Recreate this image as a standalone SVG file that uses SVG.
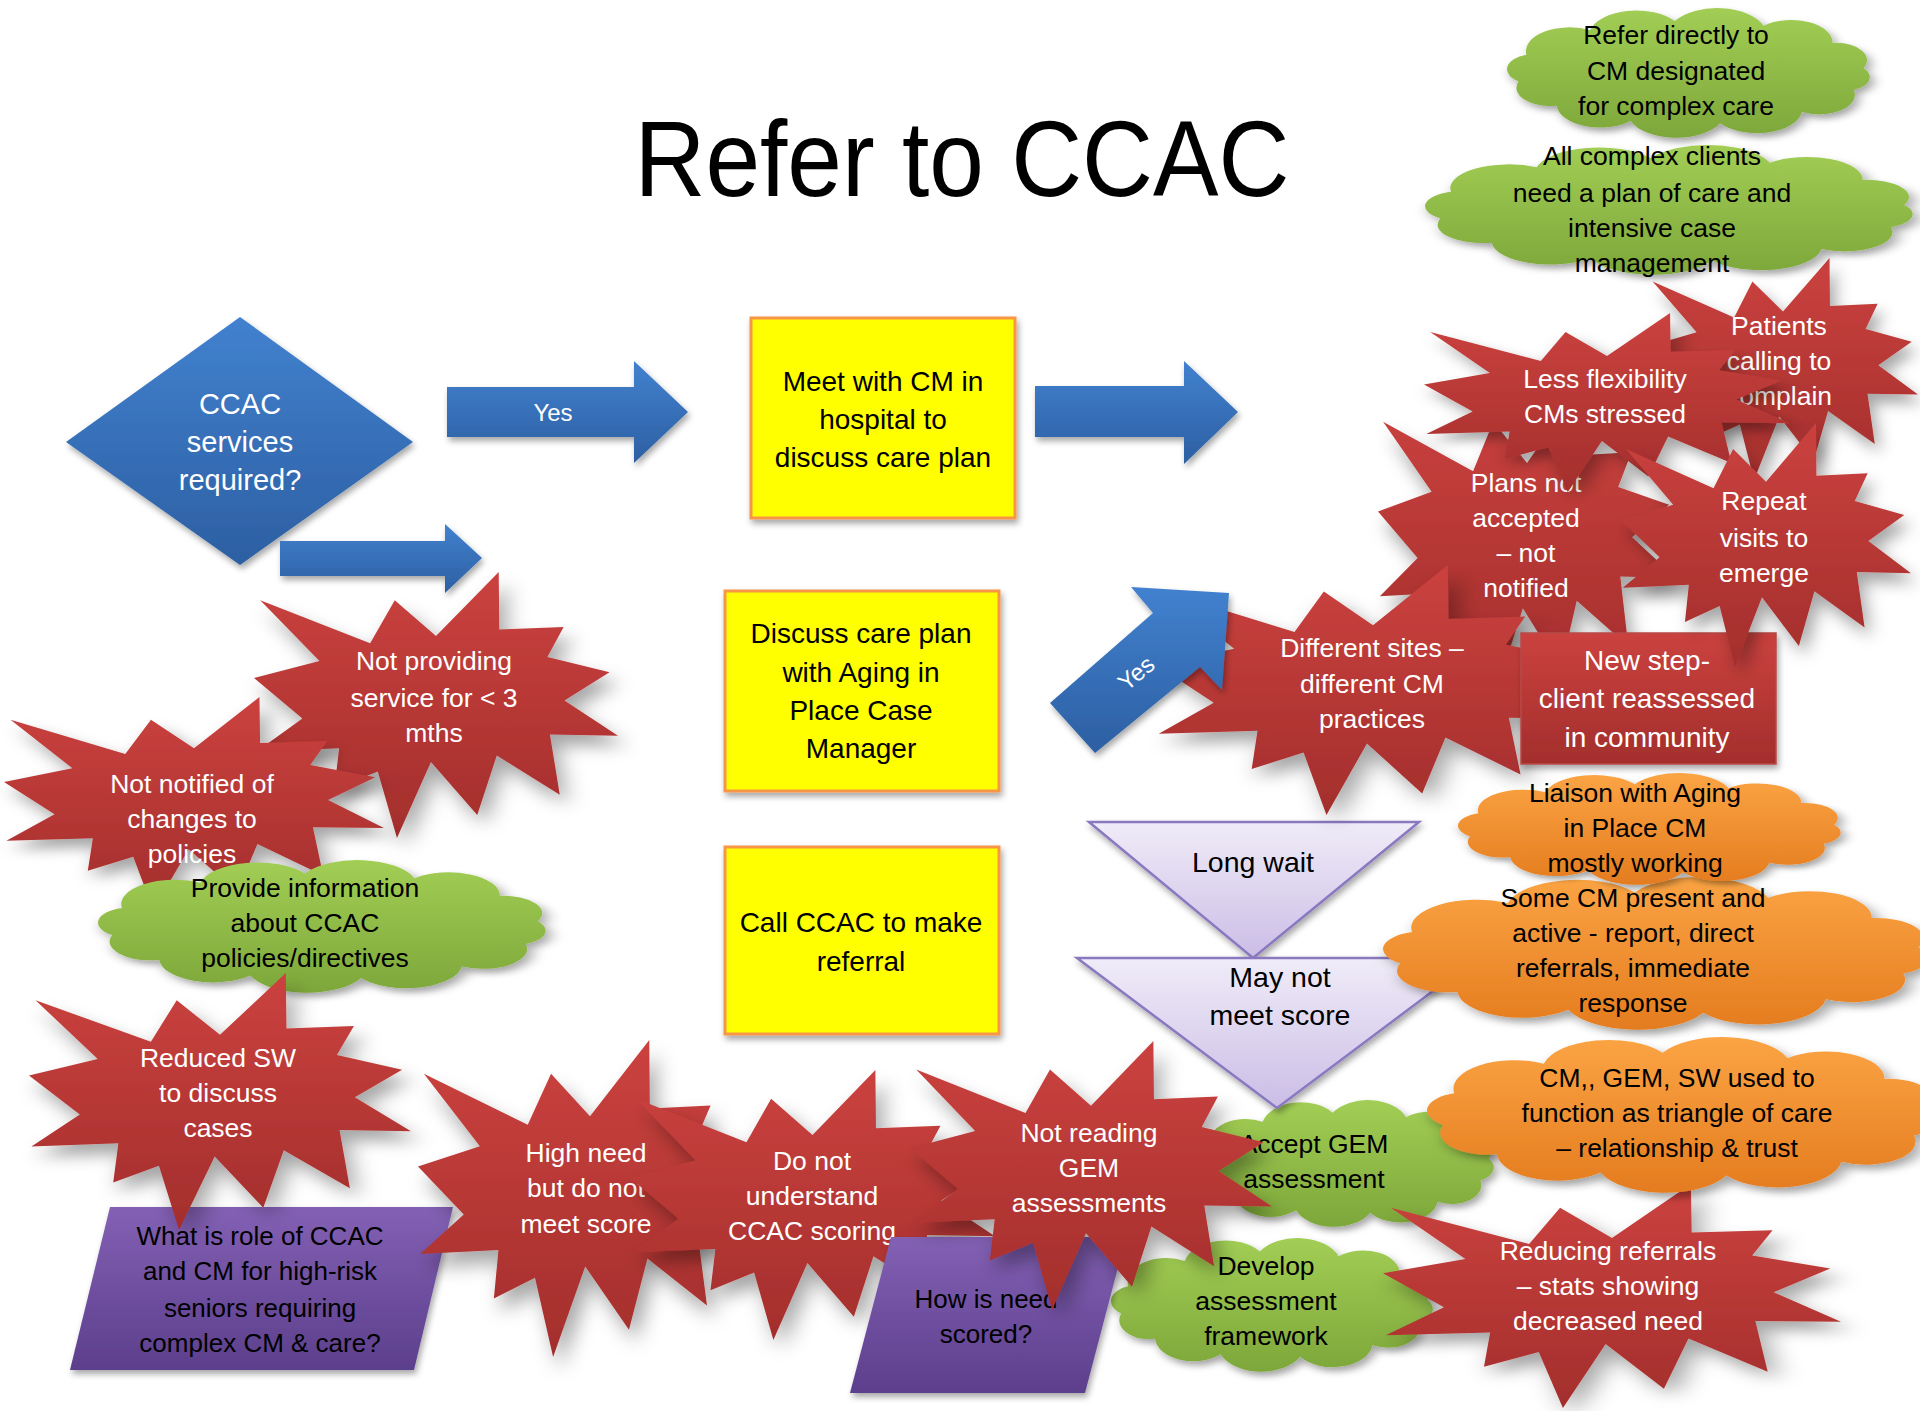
<svg xmlns="http://www.w3.org/2000/svg" xmlns:xlink="http://www.w3.org/1999/xlink" width="1920" height="1411" viewBox="0 0 1920 1411">
<defs>
<linearGradient id="gRed" x1="0" y1="0" x2="0" y2="1"><stop offset="0" stop-color="#CB423F"/><stop offset="1" stop-color="#A32E2C"/></linearGradient>
<linearGradient id="gBlue" x1="0" y1="0" x2="0" y2="1"><stop offset="0" stop-color="#4281CF"/><stop offset="1" stop-color="#2C5FA2"/></linearGradient>
<linearGradient id="gGreen" x1="0" y1="0" x2="0" y2="1"><stop offset="0" stop-color="#A2CE55"/><stop offset="1" stop-color="#7DA73A"/></linearGradient>
<linearGradient id="gOrange" x1="0" y1="0" x2="0" y2="1"><stop offset="0" stop-color="#FBA444"/><stop offset="1" stop-color="#E47C1F"/></linearGradient>
<linearGradient id="gPurple" x1="0" y1="0" x2="0" y2="1"><stop offset="0" stop-color="#8360B4"/><stop offset="1" stop-color="#5C3F8C"/></linearGradient>
<linearGradient id="gLav" x1="0" y1="0" x2="0" y2="1"><stop offset="0" stop-color="#F0ECF8"/><stop offset="1" stop-color="#CBBDE6"/></linearGradient>
<filter id="sh" x="-10%" y="-10%" width="125%" height="130%"><feDropShadow dx="2" dy="4" stdDeviation="3" flood-color="#000" flood-opacity="0.35"/></filter>
<path id="boom" d="M50,24.07 L67.23,0 L67.39,21.61 L85.06,20.64 L80.6,31.93 L97.67,37.67 L85.29,48.32 L100,61.53 L81.3,61.11 L84,83.77 L66.7,68.96 L61.33,91.38 L48.61,71.44 L39.28,100 L34.01,75.03 L22.05,81.56 L23.39,66.26 L0.63,67.53 L13.3,55.05 L0,39.88 L17.99,33.49 L1.71,10.63 L31.91,26.77 L38.67,10.63 Z"/>
<path id="cloud" d="M17.3,43.6 A22,22 0 0 1 49.5,20.7 A24,24 0 0 1 92.3,12.2 A25,25 0 0 1 137.2,16.5 A21,21 0 0 1 172.1,32.5 A16,16 0 0 1 187.7,55.8 A13,13 0 0 1 182.7,76.4 A18,18 0 0 1 156.6,96.8 A23,23 0 0 1 115.3,107.3 A25,25 0 0 1 69.9,105.1 A22,22 0 0 1 32.6,90.9 A17,17 0 0 1 13.3,68.3 A14,14 0 0 1 17.3,43.6 Z"/>
<style>
text{font-family:"Liberation Sans",Arial,sans-serif;text-anchor:middle}
.w{fill:#fff}
.k{fill:#000}
.s{font-size:26.5px}
.c{font-size:26.5px}
.y{font-size:28px}
.p{font-size:26px}
.l{font-size:28.5px}
.d{font-size:29px}
.star{fill:url(#gRed)}
.grn{fill:url(#gGreen)}
.org{fill:url(#gOrange)}
.yel{fill:#FFFF00;stroke:#F79646;stroke-width:3}
.pur{fill:url(#gPurple)}
.lav{fill:url(#gLav);stroke:#8A78C0;stroke-width:2.5}
.arr{fill:url(#gBlue)}
</style>
</defs>
<rect width="1920" height="1411" fill="#fff"/>

<text x="962" y="196" font-size="107" textLength="655" lengthAdjust="spacingAndGlyphs" fill="#000">Refer to CCAC</text>

<g id="box-meet">
<rect class="yel" x="751" y="318" width="264" height="200" filter="url(#sh)"/>
<text class="k y" x="883" y="391">Meet with CM in</text>
<text class="k y" x="883" y="429">hospital to</text>
<text class="k y" x="883" y="467">discuss care plan</text>
</g>
<g id="box-discuss">
<rect class="yel" x="725" y="591" width="274" height="200" filter="url(#sh)"/>
<text class="k y" x="861" y="643">Discuss care plan</text>
<text class="k y" x="861" y="682">with Aging in</text>
<text class="k y" x="861" y="720">Place Case</text>
<text class="k y" x="861" y="758">Manager</text>
</g>
<g id="box-call">
<rect class="yel" x="725" y="847" width="274" height="187" filter="url(#sh)"/>
<text class="k y" x="861" y="932">Call CCAC to make</text>
<text class="k y" x="861" y="971">referral</text>
</g>

<g id="decision">
<polygon class="arr" points="240,317 413,442 240,565 66,442" filter="url(#sh)"/>
<text class="w d" x="240" y="414">CCAC</text>
<text class="w d" x="240" y="452">services</text>
<text class="w d" x="240" y="490">required?</text>
</g>

<g id="star-not-providing">
<use href="#boom" class="star" transform="translate(254,572) scale(3.64,2.66)" filter="url(#sh)"/>
<text class="w s" x="434" y="670">Not providing</text>
<text class="w s" x="434" y="707">service for &lt; 3</text>
<text class="w s" x="434" y="742">mths</text>
</g>
<g id="star-not-notified">
<use href="#boom" class="star" transform="translate(4,697) scale(3.8,2.13)" filter="url(#sh)"/>
<text class="w s" x="192" y="793">Not notified of</text>
<text class="w s" x="192" y="828">changes to</text>
<text class="w s" x="192" y="863">policies</text>
</g>
<g id="cloud-provide">
<use href="#cloud" class="grn" transform="translate(79.7,860) scale(2.441,1.099)" filter="url(#sh)"/>
<text class="k c" x="305" y="897">Provide information</text>
<text class="k c" x="305" y="932">about CCAC</text>
<text class="k c" x="305" y="967">policies/directives</text>
</g>
<g id="q-role">
<polygon class="pur" points="110,1207 453,1207 414,1370 70,1370" filter="url(#sh)"/>
<text class="k p" x="260" y="1245">What is role of CCAC</text>
<text class="k p" x="260" y="1280">and CM for high-risk</text>
<text class="k p" x="260" y="1317">seniors requiring</text>
<text class="k p" x="260" y="1352">complex CM &amp; care?</text>
</g>
<g id="star-reduced-sw">
<use href="#boom" class="star" transform="translate(29,973) scale(3.82,2.57)" filter="url(#sh)"/>
<text class="w s" x="218" y="1067">Reduced SW</text>
<text class="w s" x="218" y="1102">to discuss</text>
<text class="w s" x="218" y="1137">cases</text>
</g>
<g id="star-high-need">
<use href="#boom" class="star" transform="translate(418,1040) scale(3.44,3.17)" filter="url(#sh)"/>
<text class="w s" x="586" y="1162">High need</text>
<text class="w s" x="586" y="1197">but do not</text>
<text class="w s" x="586" y="1233">meet score</text>
</g>
<g id="star-do-not-understand">
<use href="#boom" class="star" transform="translate(630,1070) scale(3.65,2.7)" filter="url(#sh)"/>
<text class="w s" x="812" y="1170">Do not</text>
<text class="w s" x="812" y="1205">understand</text>
<text class="w s" x="812" y="1240">CCAC scoring</text>
</g>
<g id="cloud-accept">
<use href="#cloud" class="grn" transform="translate(1181.7,1100) scale(1.635,1.05)" filter="url(#sh)"/>
<text class="k c" x="1314" y="1153">Accept GEM</text>
<text class="k c" x="1314" y="1188">assessment</text>
</g>
<g id="cloud-develop">
<use href="#cloud" class="grn" transform="translate(1097.8,1238) scale(1.755,1.107)" filter="url(#sh)"/>
<text class="k c" x="1266" y="1275">Develop</text>
<text class="k c" x="1266" y="1310">assessment</text>
<text class="k c" x="1266" y="1345">framework</text>
</g>
<g id="tri-long-wait">
<polygon class="lav" points="1089,822 1419,822 1253,958" filter="url(#sh)"/>
<text class="k l" x="1253" y="872">Long wait</text>
</g>
<g id="tri-may-not">
<polygon class="lav" points="1077,958 1477,958 1277,1108" filter="url(#sh)"/>
<text class="k l" x="1280" y="987">May not</text>
<text class="k l" x="1280" y="1025">meet score</text>
</g>
<g id="q-need">
<polygon class="pur" points="891,1237 1126,1237 1085,1393 850,1393" filter="url(#sh)"/>
<text class="k p" x="986" y="1308">How is need</text>
<text class="k p" x="986" y="1343">scored?</text>
</g>
<g id="star-not-reading">
<use href="#boom" class="star" transform="translate(910,1041) scale(3.62,2.69)" filter="url(#sh)"/>
<text class="w s" x="1089" y="1142">Not reading</text>
<text class="w s" x="1089" y="1177">GEM</text>
<text class="w s" x="1089" y="1212">assessments</text>
</g>
<g id="star-reducing">
<use href="#boom" class="star" transform="translate(1383,1184) scale(4.58,2.24)" filter="url(#sh)"/>
<text class="w s" x="1608" y="1260">Reducing referrals</text>
<text class="w s" x="1608" y="1295">– stats showing</text>
<text class="w s" x="1608" y="1330">decreased need</text>
</g>
<g id="star-patients">
<use href="#boom" class="star" transform="translate(1648,258) scale(2.7,2.22)" filter="url(#sh)"/>
<text class="w s" x="1779" y="335">Patients</text>
<text class="w s" x="1779" y="370">calling to</text>
<text class="w s" x="1779" y="405">complain</text>
</g>
<g id="star-plans">
<use href="#boom" class="star" transform="translate(1378,389) scale(2.98,3.07)" filter="url(#sh)"/>
<text class="w s" x="1526" y="492">Plans not</text>
<text class="w s" x="1526" y="527">accepted</text>
<text class="w s" x="1526" y="562">– not</text>
<text class="w s" x="1526" y="597">notified</text>
</g>
<g id="star-less-flex">
<use href="#boom" class="star" transform="translate(1424,313) scale(3.66,1.79)" filter="url(#sh)"/>
<text class="w s" x="1605" y="388">Less flexibility</text>
<text class="w s" x="1605" y="423">CMs stressed</text>
</g>
<g id="star-different-sites">
<use href="#boom" class="star" transform="translate(1156,565) scale(4.34,2.5)" filter="url(#sh)"/>
<text class="w s" x="1372" y="657">Different sites –</text>
<text class="w s" x="1372" y="693">different CM</text>
<text class="w s" x="1372" y="728">practices</text>
</g>

<g id="connectors">
<polygon class="arr" points="447,387 634,387 634,361 688,412 634,463 634,437 447,437" filter="url(#sh)"/>
<text class="w" x="553" y="421" font-size="24">Yes</text>
<polygon class="arr" points="1035,386 1184,386 1184,361 1238,412 1184,464 1184,437 1035,437" filter="url(#sh)"/>
<polygon class="arr" points="280,541 445,541 445,524 482,558 445,593 445,576 280,576" filter="url(#sh)"/>
<polygon class="arr" points="1229,593 1222,690 1200,667 1095,753 1050,703 1153,613 1131,587" filter="url(#sh)"/>
<text class="w" transform="translate(1136,673) rotate(-40)" x="0" y="8.5" font-size="24">Yes</text>
</g>

<g id="box-new-step">
<rect x="1521" y="633" width="255" height="131" fill="url(#gRed)" stroke="#B84A48" stroke-width="1.5" filter="url(#sh)"/>
<text class="w y" x="1647" y="670">New step-</text>
<text class="w y" x="1647" y="708">client reassessed</text>
<text class="w y" x="1647" y="747">in community</text>
</g>
<g id="star-repeat">
<use href="#boom" class="star" transform="translate(1621,423) scale(2.9,2.44)" filter="url(#sh)"/>
<text class="w s" x="1764" y="510">Repeat</text>
<text class="w s" x="1764" y="547">visits to</text>
<text class="w s" x="1764" y="582">emerge</text>
</g>
<g id="cloud-refer-directly">
<use href="#cloud" class="grn" transform="translate(1492.2,8) scale(1.978,1.074)" filter="url(#sh)"/>
<text class="k c" x="1676" y="44">Refer directly to</text>
<text class="k c" x="1676" y="80">CM designated</text>
<text class="k c" x="1676" y="115">for complex care</text>
</g>
<g id="cloud-all-complex">
<use href="#cloud" class="grn" transform="translate(1405.1,145) scale(2.659,1.074)" filter="url(#sh)"/>
<text class="k c" x="1652" y="165">All complex clients</text>
<text class="k c" x="1652" y="202">need a plan of care and</text>
<text class="k c" x="1652" y="237">intensive case</text>
<text class="k c" x="1652" y="272">management</text>
</g>
<g id="cloud-some-cm">
<use href="#cloud" class="org" transform="translate(1360.7,877) scale(2.97,1.264)" filter="url(#sh)"/>
<text class="k c" x="1633" y="907">Some CM present and</text>
<text class="k c" x="1633" y="942">active - report, direct</text>
<text class="k c" x="1633" y="977">referrals, immediate</text>
<text class="k c" x="1633" y="1012">response</text>
</g>
<g id="cloud-liaison">
<use href="#cloud" class="org" transform="translate(1442.3,773) scale(2.087,0.926)" filter="url(#sh)"/>
<text class="k c" x="1635" y="802">Liaison with Aging</text>
<text class="k c" x="1635" y="837">in Place CM</text>
<text class="k c" x="1635" y="872">mostly working</text>
</g>
<g id="cloud-triangle">
<use href="#cloud" class="org" transform="translate(1406.2,1037) scale(2.779,1.29)" filter="url(#sh)"/>
<text class="k c" x="1677" y="1087">CM,, GEM, SW used to</text>
<text class="k c" x="1677" y="1122">function as triangle of care</text>
<text class="k c" x="1677" y="1157">– relationship &amp; trust</text>
</g>
</svg>
